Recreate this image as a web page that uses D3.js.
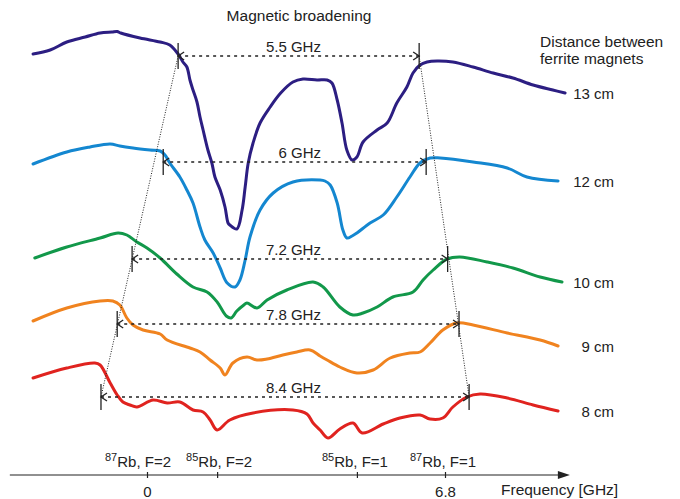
<!DOCTYPE html>
<html>
<head>
<meta charset="utf-8">
<script src="https://cdn.jsdelivr.net/npm/d3@7"></script>
<style>
  body { margin: 0; background: #fff; }
  text { font-family: Arial, "Liberation Sans", sans-serif; fill: #222; }
</style>
</head>
<body>
<svg id="chart" width="680" height="499"></svg>
<script>
// Transmission traces (a.u., vertically stacked) vs. laser detuning [GHz]
const trace13 = [[-2.60,4.20],[-2.21,4.24],[-1.83,4.32],[-1.41,4.37],[-1.07,4.41],[-0.80,4.42],[-0.68,4.425],[-0.60,4.41],[-0.16,4.36],[0.30,4.32],[0.52,4.29],[0.71,4.20],[0.82,4.12],[0.91,4.07],[0.98,3.94],[1.05,3.84],[1.14,3.72],[1.21,3.57],[1.28,3.44],[1.39,3.24],[1.48,3.11],[1.55,2.97],[1.67,2.84],[1.78,2.67],[1.85,2.51],[1.89,2.49],[2.05,2.45],[2.17,2.64],[2.24,2.87],[2.31,3.11],[2.42,3.31],[2.58,3.51],[2.81,3.67],[3.05,3.81],[3.33,3.92],[3.56,3.95],[3.88,3.94],[4.11,3.94],[4.22,3.91],[4.34,3.74],[4.45,3.51],[4.56,3.24],[4.68,3.14],[4.79,3.17],[4.93,3.32],[5.25,3.44],[5.48,3.51],[5.70,3.71],[5.93,3.87],[6.07,4.01],[6.23,4.09],[6.39,4.12],[6.62,4.13],[6.98,4.12],[7.44,4.07],[7.90,4.01],[8.35,3.96],[8.81,3.89],[9.26,3.84],[9.54,3.81]];
const trace12 = [[-2.60,3.10],[-1.83,3.22],[-1.30,3.27],[-0.84,3.30],[-0.62,3.28],[-0.32,3.26],[0.07,3.24],[0.30,3.23],[0.41,3.19],[0.52,3.11],[0.75,2.97],[0.91,2.84],[1.05,2.71],[1.21,2.47],[1.32,2.34],[1.51,2.21],[1.67,2.06],[1.83,1.91],[2.01,1.87],[2.12,1.94],[2.24,2.14],[2.35,2.37],[2.58,2.64],[2.88,2.81],[3.33,2.92],[3.95,2.94],[4.06,2.93],[4.18,2.89],[4.34,2.71],[4.47,2.44],[4.56,2.36],[4.68,2.38],[4.79,2.41],[5.09,2.51],[5.39,2.59],[5.70,2.77],[6.00,2.97],[6.23,3.11],[6.46,3.16],[6.69,3.16],[7.44,3.12],[8.22,3.06],[8.67,2.97],[9.38,2.93]];
const trace10 = [[-2.56,2.16],[-1.83,2.27],[-1.07,2.36],[-0.66,2.41],[-0.46,2.39],[-0.23,2.32],[0.00,2.26],[0.30,2.16],[0.68,2.00],[1.05,1.87],[1.37,1.82],[1.60,1.72],[1.81,1.58],[1.92,1.56],[2.05,1.63],[2.21,1.69],[2.28,1.71],[2.51,1.66],[2.74,1.74],[3.19,1.84],[3.79,1.92],[4.02,1.87],[4.40,1.67],[4.70,1.59],[4.93,1.61],[5.25,1.67],[5.61,1.77],[6.07,1.82],[6.30,1.94],[6.53,2.04],[6.85,2.15],[7.14,2.17],[7.76,2.12],[8.35,2.06],[8.97,1.97],[9.47,1.92]];
const trace9 = [[-2.60,1.53],[-1.83,1.66],[-1.07,1.73],[-0.78,1.73],[-0.62,1.69],[-0.46,1.56],[-0.32,1.49],[-0.09,1.44],[0.30,1.40],[0.46,1.34],[0.98,1.26],[1.21,1.22],[1.44,1.14],[1.67,1.06],[1.78,0.99],[1.96,1.11],[2.28,1.17],[2.51,1.14],[2.74,1.15],[3.10,1.19],[3.42,1.22],[3.72,1.24],[3.95,1.18],[4.11,1.14],[4.40,1.07],[4.79,1.01],[5.16,1.04],[5.55,1.16],[6.00,1.21],[6.23,1.22],[6.46,1.31],[6.75,1.44],[7.07,1.51],[7.44,1.49],[8.22,1.41],[8.97,1.34],[9.38,1.28]];
const trace8 = [[-2.60,0.96],[-1.83,1.06],[-1.19,1.11],[-1.07,1.09],[-0.84,0.91],[-0.68,0.79],[-0.55,0.72],[-0.39,0.69],[-0.23,0.67],[0.14,0.74],[0.46,0.71],[0.75,0.72],[1.05,0.64],[1.28,0.62],[1.44,0.54],[1.60,0.44],[1.89,0.54],[2.42,0.61],[3.33,0.64],[3.65,0.60],[3.79,0.51],[3.95,0.44],[4.13,0.36],[4.40,0.45],[4.70,0.51],[4.91,0.41],[5.39,0.50],[5.77,0.56],[6.23,0.59],[6.46,0.55],[6.75,0.56],[6.98,0.67],[7.30,0.77],[7.60,0.80],[8.22,0.76],[8.81,0.69],[9.38,0.63]];

const traces = [trace13, trace12, trace10, trace9, trace8];
const distances = ["13 cm", "12 cm", "10 cm", "9 cm", "8 cm"];
const traceColors = ["#2c1e82", "#1487d0", "#12984a", "#f0831f", "#e0231f"];

// Broadening spans: width [GHz], start frequency [GHz], level [a.u.]
const spanWidths = [5.5, 6, 7.2, 7.8, 8.4];
const spanStarts = [0.71, 0.37, -0.34, -0.68, -1.05];
const spanLevels = [4.18, 3.12, 2.15, 1.50, 0.77];

// Frequency axis: hyperfine transition positions [GHz]
const freqTicks = [0, 1.60, 4.79, 6.8];
const tickLabels = ["0", "", "", "6.8"];
const isotopes = ["87", "85", "85", "87"];
const levels = ["Rb, F=2", "Rb, F=2", "Rb, F=1", "Rb, F=1"];
const axisExtent = [-3.13, 9.65];

const svg = d3.select("#chart");
const x = d3.scaleLinear().domain([0, 6.8]).range([147, 445]);
const y = d3.scaleLinear().domain([0, 4.74]).range([474, 0]);
const ink = "#222";
const fontMain = 15.5, fontSmall = 15;

// Traces
const line = d3.line().x(d => x(d[0])).y(d => y(d[1])).curve(d3.curveCatmullRom.alpha(0.5));
svg.append("g").selectAll("path").data(traces).join("path")
  .attr("d", line)
  .attr("fill", "none")
  .attr("stroke", (d, i) => traceColors[i])
  .attr("stroke-width", 3)
  .attr("stroke-linejoin", "round")
  .attr("stroke-linecap", "round");

// Distance labels at the right end of each trace
svg.append("g").selectAll("text").data(traces).join("text")
  .attr("x", 614)
  .attr("y", d => y(d[d.length - 1][1]) + 6)
  .attr("text-anchor", "end")
  .attr("font-size", fontSmall)
  .text((d, i) => distances[i]);

// Envelope lines joining the span ends
const last = spanWidths.length - 1;
const envelopes = [
  [[spanStarts[0], spanLevels[0]], [spanStarts[last], spanLevels[last]]],
  [[spanStarts[0] + spanWidths[0], spanLevels[0]], [spanStarts[last] + spanWidths[last], spanLevels[last]]]
];
svg.append("g").selectAll("line").data(envelopes).join("line")
  .attr("x1", d => x(d[0][0])).attr("y1", d => y(d[0][1]))
  .attr("x2", d => x(d[1][0])).attr("y2", d => y(d[1][1]))
  .attr("stroke", ink).attr("stroke-width", 1).attr("stroke-dasharray", "1,1.5");

// Span arrows
const spans = svg.append("g").selectAll("g").data(spanWidths).join("g");
const tickHalf = 13, head = 6, headHalf = 4;
spans.append("line")
  .attr("x1", (d, i) => x(spanStarts[i])).attr("x2", (d, i) => x(spanStarts[i] + d))
  .attr("y1", (d, i) => y(spanLevels[i])).attr("y2", (d, i) => y(spanLevels[i]))
  .attr("stroke", ink).attr("stroke-width", 1.3).attr("stroke-dasharray", "3,4");
[0, 1].forEach(end => {
  spans.append("line")
    .attr("x1", (d, i) => x(spanStarts[i] + end * d)).attr("x2", (d, i) => x(spanStarts[i] + end * d))
    .attr("y1", (d, i) => y(spanLevels[i]) - tickHalf).attr("y2", (d, i) => y(spanLevels[i]) + tickHalf)
    .attr("stroke", ink).attr("stroke-width", 1.3);
  spans.append("path")
    .attr("d", (d, i) => {
      const tx = x(spanStarts[i] + end * d), ty = y(spanLevels[i]);
      const bx = end ? tx - head : tx + head;
      return `M${bx},${ty - headHalf}L${tx},${ty}L${bx},${ty + headHalf}`;
    })
    .attr("fill", "none").attr("stroke", ink).attr("stroke-width", 1.3);
});
spans.append("text")
  .attr("x", x(3.97))
  .attr("y", (d, i) => y(spanLevels[i]) - 4)
  .attr("text-anchor", "end")
  .attr("font-size", fontSmall)
  .text(d => `${d} GHz`);

// Frequency axis with arrow
const axisY = 475;
const xAxis = d3.axisBottom(x).tickValues(freqTicks)
  .tickFormat((d, i) => tickLabels[i])
  .tickSizeInner(3).tickSizeOuter(0).tickPadding(8);
const ag = svg.append("g").attr("transform", `translate(0,${axisY})`).call(xAxis);
ag.select(".domain").remove();
ag.selectAll(".tick line").attr("y1", -3).attr("y2", 3).attr("stroke", ink).attr("stroke-width", 1.2);
ag.selectAll(".tick text").attr("font-size", fontSmall).attr("fill", ink)
  .attr("font-family", 'Arial, "Liberation Sans", sans-serif');
svg.append("line")
  .attr("x1", x(axisExtent[0])).attr("x2", x(axisExtent[1]) - 8)
  .attr("y1", axisY).attr("y2", axisY)
  .attr("stroke", ink).attr("stroke-width", 1.2);
svg.append("path")
  .attr("d", `M${x(axisExtent[1])},${axisY}L${x(axisExtent[1]) - 12},${axisY - 4}L${x(axisExtent[1]) - 12},${axisY + 4}Z`)
  .attr("fill", ink);
svg.append("text").attr("x", 501).attr("y", 495).attr("font-size", fontMain).text("Frequency [GHz]");

// Transition labels above the axis (the first one is nudged left to leave room)
const tl = svg.append("g").selectAll("text").data(freqTicks).join("text")
  .attr("x", (d, i) => x(d) + (i === 0 ? -9 : i === 1 ? 2 : -2))
  .attr("y", 467)
  .attr("text-anchor", "middle")
  .attr("font-size", fontSmall);
tl.append("tspan").attr("font-size", 11).attr("dy", -6).text((d, i) => isotopes[i]);
tl.append("tspan").attr("dy", 6).text((d, i) => levels[i]);

// Titles
svg.append("text").attr("x", 299).attr("y", 21).attr("text-anchor", "middle")
  .attr("font-size", fontMain).text("Magnetic broadening");
svg.append("text").attr("x", 540).attr("y", 47).attr("font-size", fontMain).text("Distance between");
svg.append("text").attr("x", 540).attr("y", 64).attr("font-size", fontMain).text("ferrite magnets");
</script>
</body>
</html>
